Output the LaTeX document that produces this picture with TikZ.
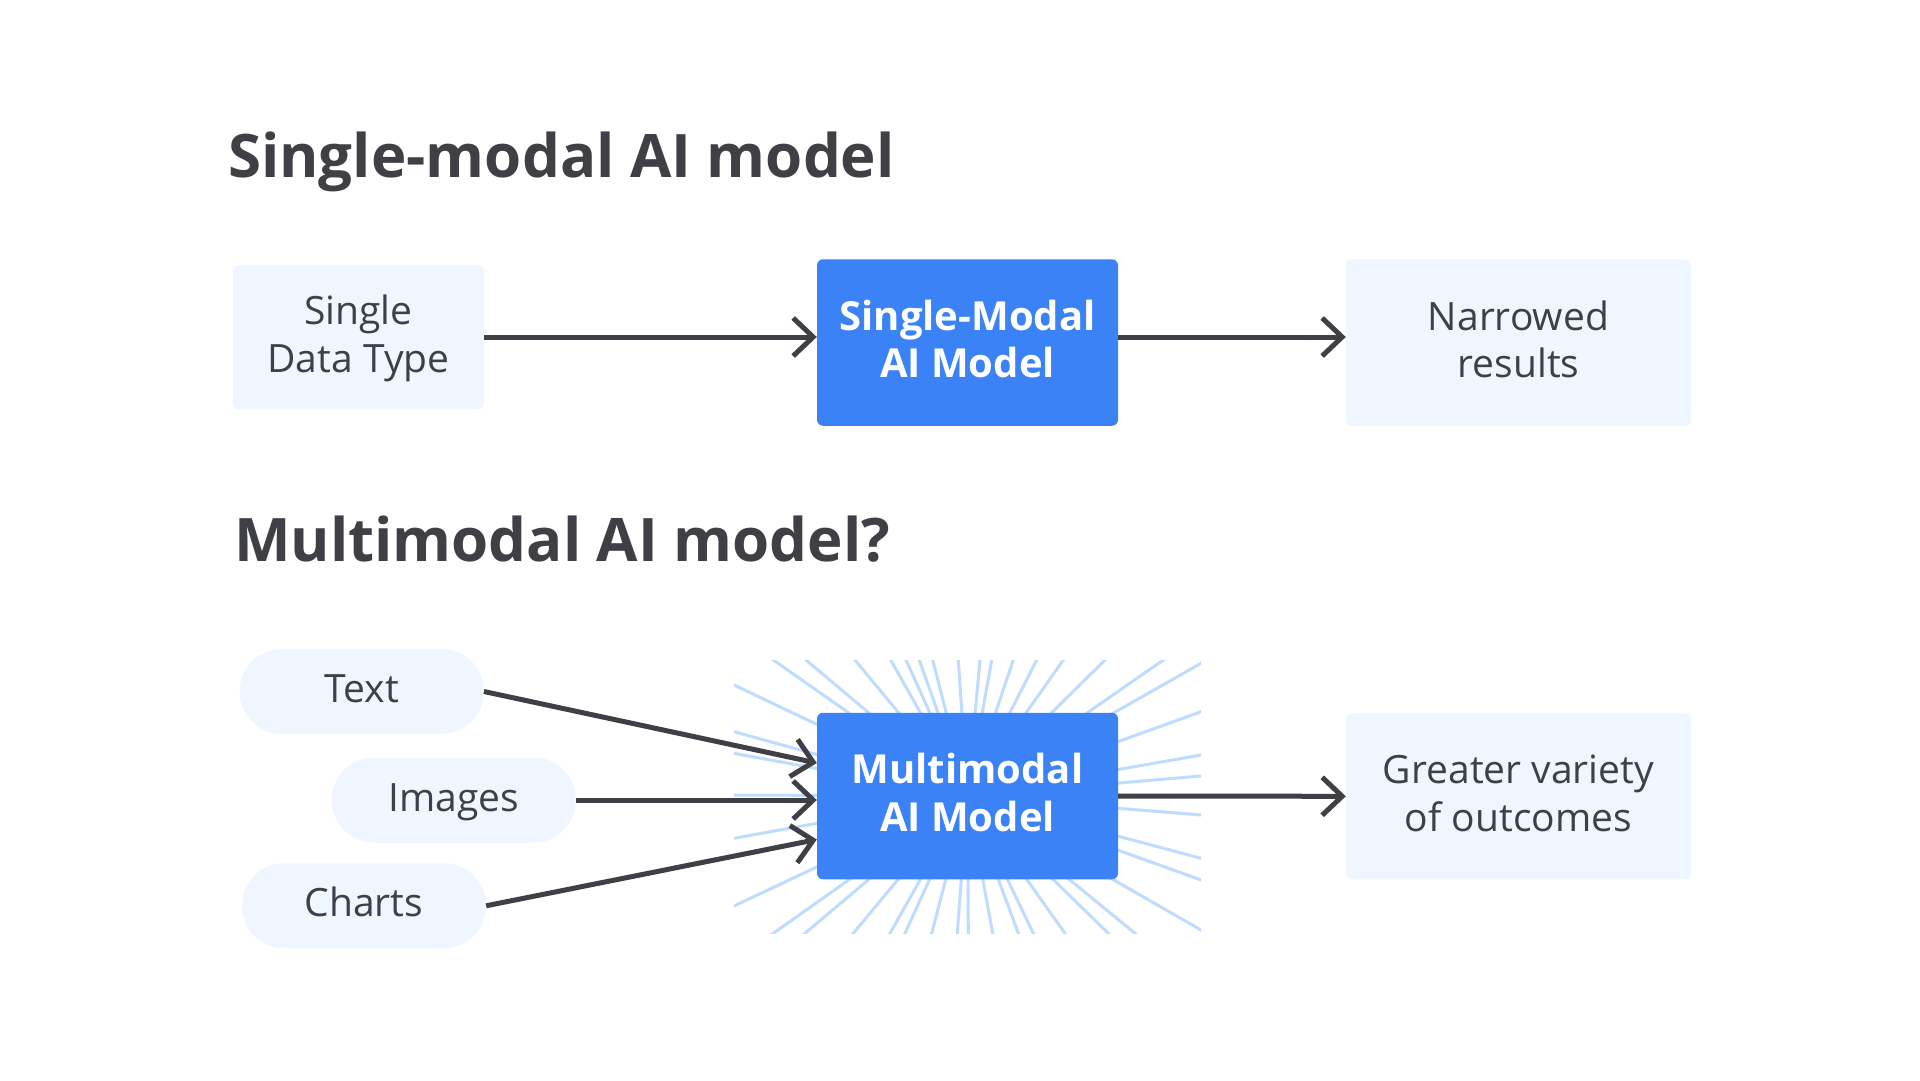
\documentclass[tikz,border=0pt]{standalone}
\usepackage{fontspec}
\setmainfont{Open Sans}
\usetikzlibrary{arrows.meta,calc}
\definecolor{ink}{HTML}{3F3F46}
\definecolor{bluemain}{HTML}{3B82F6}
\definecolor{bluelight}{HTML}{EFF6FF}
\definecolor{raycol}{HTML}{BFDBFE}
\begin{document}
\begin{tikzpicture}[x=1pt,y=-1pt,
  title/.style={anchor=base west, inner sep=0pt, font=\fontsize{60}{72}\selectfont\bfseries, text=ink},
  twoline/.style={text height=77.5pt, text depth=7.5pt},
  lightbox/.style={fill=bluelight, rounded corners=6pt, inner sep=0pt, align=center, text=ink, font=\fontsize{39}{47.5}\selectfont, twoline},
  bluebox/.style={fill=bluemain, rounded corners=6pt, inner sep=0pt, align=center, text=white, font=\fontsize{40}{47.5}\selectfont\bfseries, minimum width=301pt, minimum height=166.5pt, twoline},
  pill/.style={fill=bluelight, rounded corners=42pt, inner sep=0pt, text=ink, font=\fontsize{39}{47.5}\selectfont, minimum width=244pt, minimum height=85pt, text height=29.5pt, text depth=7.5pt},
  conn/.style={draw=ink, line width=5pt, -{Straight Barb[length=20pt,width=38pt,sharp]}},
  raystyle/.style={draw=raycol, line width=3pt}
]
\useasboundingbox[fill=white] (0,0) rectangle (1920,1081);

% titles
\node[title] (t1) at (228,177.3) {Single-modal AI model};
\node[title] (t2) at (234,561.7) {Multimodal AI model?};

% single-modal row
\node[lightbox, minimum width=251pt, minimum height=144pt] (A) at (358.5,337) {Single\\Data Type};
\node[bluebox] (B) at (967.5,342.5) {Single-Modal\\AI Model};
\node[lightbox, minimum width=345pt, minimum height=166.5pt] (C) at (1518.5,342.5) {Narrowed\\results};

% rays behind the multimodal box
\coordinate (mc) at (967.5,796);
\begin{scope}
  \clip (734,660) rectangle (1201,933.3);
  \foreach \x in {773.3,806,855,890.7,906,919.3,932.7,958.3,980,991.7,1013.3,1036.7,1063.3,1105,1163.3}
    \draw[raystyle] (mc) -- ($(mc)!1.3!(\x,660)$);
  \foreach \x in {773.3,805,853.3,890,905,931.7,957.3,968.3,992.7,1018.3,1033.3,1065,1108.3,1135}
    \draw[raystyle] (mc) -- ($(mc)!1.3!(\x,933.3)$);
  \foreach \y in {663.3,711.7,755,776,815,858.3,880,930}
    \draw[raystyle] (mc) -- ($(mc)!1.3!(1201,\y)$);
  \foreach \y in {685,731.7,753.3,795,838.3,906}
    \draw[raystyle] (mc) -- ($(mc)!1.3!(734,\y)$);
\end{scope}

% multimodal row
\node[bluebox] (M) at (mc) {Multimodal\\AI Model};
\node[lightbox, minimum width=345pt, minimum height=166pt] (D) at (1518.5,796.3) {Greater variety\\of outcomes};
\node[pill] (P1) at (361.75,691.5) {Text};
\node[pill] (P2) at (453.8,800) {Images};
\node[pill] (P3) at (364,905.8) {Charts};

% connectors
\draw[conn] (A.east) -- (A.east -| B.west);
\draw[conn] (B.east |- A.east) -- (C.west |- A.east);
\draw[conn] (P1.east) -- ([yshift=33pt]M.west);
\draw[conn] (P2.east) -- (P2.east -| M.west);
\draw[conn] (P3.east) -- ([yshift=-43.5pt]M.west);
\draw[conn] (M.east) -- (D.west);
\end{tikzpicture}
\end{document}
